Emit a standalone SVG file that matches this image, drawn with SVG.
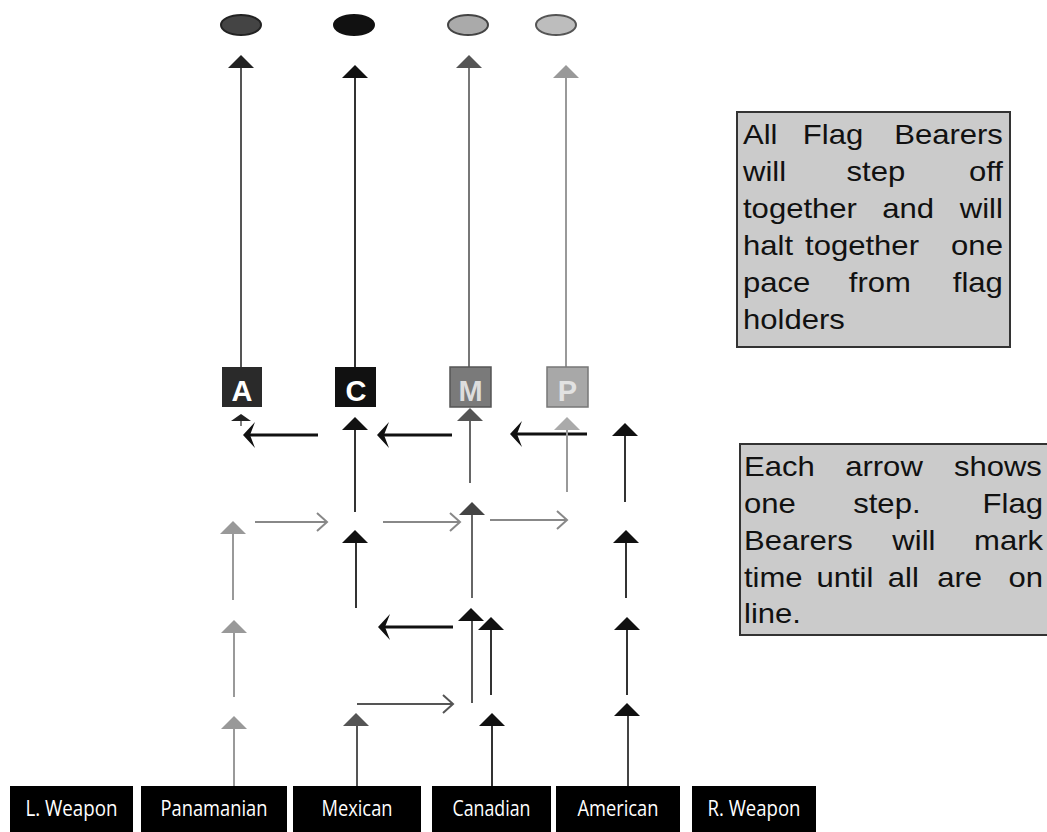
<svg xmlns="http://www.w3.org/2000/svg" xmlns:xlink="http://www.w3.org/1999/xlink" width="1047" height="832" viewBox="0 0 1047 832">
<style>
.ln{fill:none;stroke-width:2}
.lt{fill:none;stroke-width:3;stroke:#111}
.note{fill:#cbcbcb;stroke:#333;stroke-width:2}
.nt{font-family:"Liberation Sans",Arial,sans-serif;font-size:27px;fill:#111}
.bl{font-family:"Liberation Sans",Arial,sans-serif;font-size:29px;font-weight:bold;text-anchor:middle}
.lab rect{fill:#000}
.lab text{font-family:"Open Sans","Noto Sans",sans-serif;font-size:21px;fill:#fff;text-anchor:middle}
</style>
<defs>
<path id="uh" d="M0,0 L13,13 L-13,13 Z"/>
<path id="lh" d="M0,0 L12,-13 L7,0 L12,13 Z"/>
<path id="rh" d="M-10,-9 L0,0 L-10,9" fill="none"/>
</defs>
<rect width="1047" height="832" fill="#fff"/>

<g id="holder-1"><ellipse cx="241" cy="25" rx="20" ry="10" fill="#444" stroke="#222" stroke-width="2"/></g>
<g id="holder-2"><ellipse cx="354" cy="25" rx="20" ry="10" fill="#111" stroke="#111" stroke-width="2"/></g>
<g id="holder-3"><ellipse cx="468" cy="25" rx="20" ry="10" fill="#aaa" stroke="#444" stroke-width="2"/></g>
<g id="holder-4"><ellipse cx="556" cy="25" rx="20" ry="10" fill="#bdbdbd" stroke="#555" stroke-width="2"/></g>

<g id="connectors">
<use href="#uh" x="241" y="55" fill="#222"/><line class="ln" x1="241" y1="68" x2="241" y2="367" stroke="#555" stroke-width="1.6"/>
<use href="#uh" x="355" y="65" fill="#111"/><line class="ln" x1="355" y1="78" x2="355" y2="367" stroke="#333"/>
<use href="#uh" x="469" y="55" fill="#555"/><line class="ln" x1="469" y1="68" x2="469" y2="367" stroke="#777" stroke-width="1.6"/>
<use href="#uh" x="566" y="65" fill="#999"/><line class="ln" x1="566" y1="78" x2="566" y2="367" stroke="#999" stroke-width="1.6"/>

<path d="M241,414 L251,421 L231,421 Z" fill="#222"/><line x1="241" y1="421" x2="241" y2="426" stroke="#555" stroke-width="1.5"/>
<line class="lt" x1="318" y1="435" x2="250" y2="435"/><use href="#lh" x="243" y="435" fill="#111"/>
<use href="#uh" x="355" y="417" fill="#111"/><line class="ln" x1="355" y1="430" x2="355" y2="512" stroke="#333"/>
<line class="lt" x1="452" y1="435" x2="384" y2="435"/><use href="#lh" x="377" y="435" fill="#111"/>
<use href="#uh" x="470" y="408" fill="#555"/><line class="ln" x1="470" y1="421" x2="470" y2="483" stroke="#666"/>
<line class="lt" x1="587" y1="434" x2="517" y2="434"/><use href="#lh" x="510" y="434" fill="#111"/>
<use href="#uh" x="567" y="417" fill="#aaa"/><line class="ln" x1="567" y1="430" x2="567" y2="492" stroke="#999"/>
<use href="#uh" x="625" y="423" fill="#111"/><line class="ln" x1="625" y1="436" x2="625" y2="502" stroke="#333"/>

<use href="#uh" x="233" y="521" fill="#999"/><line class="ln" x1="233" y1="534" x2="233" y2="600" stroke="#999"/>
<line class="ln" x1="255" y1="522" x2="327" y2="522" stroke="#888"/><use href="#rh" x="327" y="522" stroke="#888" stroke-width="2"/>
<use href="#uh" x="355" y="530" fill="#111"/><line class="ln" x1="356" y1="543" x2="356" y2="608" stroke="#333"/>
<line class="ln" x1="383" y1="522" x2="460" y2="522" stroke="#888"/><use href="#rh" x="460" y="522" stroke="#888" stroke-width="2"/>
<use href="#uh" x="472" y="502" fill="#444"/><line class="ln" x1="472" y1="515" x2="472" y2="598" stroke="#666"/>
<line class="ln" x1="490" y1="520" x2="567" y2="520" stroke="#888"/><use href="#rh" x="567" y="520" stroke="#888" stroke-width="2"/>
<use href="#uh" x="626" y="530" fill="#111"/><line class="ln" x1="626" y1="543" x2="626" y2="598" stroke="#333"/>

<use href="#uh" x="234" y="620" fill="#999"/><line class="ln" x1="234" y1="633" x2="234" y2="697" stroke="#999"/>
<line class="lt" x1="453" y1="627" x2="385" y2="627"/><use href="#lh" x="378" y="627" fill="#111"/>
<use href="#uh" x="471" y="608" fill="#111"/><line class="ln" x1="472" y1="621" x2="472" y2="703" stroke="#555"/>
<use href="#uh" x="491" y="617" fill="#111"/><line class="ln" x1="491" y1="630" x2="491" y2="695" stroke="#333"/>
<use href="#uh" x="627" y="617" fill="#111"/><line class="ln" x1="627" y1="630" x2="627" y2="695" stroke="#333"/>

<use href="#uh" x="234" y="716" fill="#999"/><line class="ln" x1="234" y1="729" x2="234" y2="786" stroke="#999"/>
<use href="#uh" x="356" y="713" fill="#555"/><line class="ln" x1="357" y1="726" x2="357" y2="786" stroke="#555"/>
<line class="ln" x1="357" y1="704" x2="453" y2="704" stroke="#555"/><use href="#rh" x="453" y="704" stroke="#555" stroke-width="2"/>
<use href="#uh" x="492" y="713" fill="#111"/><line class="ln" x1="492" y1="726" x2="492" y2="786" stroke="#333"/>
<use href="#uh" x="627" y="703" fill="#111"/><line class="ln" x1="628" y1="716" x2="628" y2="786" stroke="#444"/>
</g>

<g id="bearer-A"><rect x="222" y="367" width="40" height="40" fill="#2a2a2a"/><text class="bl" x="242" y="401" fill="#fff">A</text></g>
<g id="bearer-C"><rect x="335" y="367" width="41" height="40" fill="#111"/><text class="bl" x="356" y="401" fill="#fff">C</text></g>
<g id="bearer-M"><rect x="450" y="367" width="41" height="40" fill="#7a7a7a" stroke="#555" stroke-width="1.5"/><text class="bl" x="470.5" y="401" fill="#ddd">M</text></g>
<g id="bearer-P"><rect x="547" y="367" width="41" height="40" fill="#a8a8a8" stroke="#777" stroke-width="1.5"/><text class="bl" x="567.5" y="401" fill="#e2e2e2">P</text></g>

<g id="note-1">
<rect class="note" x="737" y="112" width="273" height="235"/>
<g transform="translate(743 0) scale(1.15 1)" class="nt">
<text x="0" y="144">All</text><text x="52" y="144">Flag</text><text x="226" y="144" text-anchor="end">Bearers</text>
<text x="0" y="181">will</text><text x="90" y="181">step</text><text x="226" y="181" text-anchor="end">off</text>
<text x="0" y="218">together</text><text x="121" y="218">and</text><text x="226" y="218" text-anchor="end">will</text>
<text x="0" y="255">halt</text><text x="54" y="255">together</text><text x="226" y="255" text-anchor="end">one</text>
<text x="0" y="292">pace</text><text x="92" y="292">from</text><text x="226" y="292" text-anchor="end">flag</text>
<text x="0" y="329">holders</text>
</g>
</g>

<g id="note-2">
<rect class="note" x="740" y="444" width="320" height="191"/>
<g transform="translate(744 0) scale(1.15 1)" class="nt">
<text x="0" y="476">Each</text><text x="88" y="476">arrow</text><text x="259" y="476" text-anchor="end">shows</text>
<text x="0" y="513">one</text><text x="95" y="513">step.</text><text x="260" y="513" text-anchor="end">Flag</text>
<text x="0" y="550">Bearers</text><text x="129" y="550">will</text><text x="260" y="550" text-anchor="end">mark</text>
<text x="0" y="587">time</text><text x="63" y="587">until</text><text x="125" y="587">all</text><text x="168" y="587">are</text><text x="260" y="587" text-anchor="end">on</text>
<text x="0" y="623">line.</text>
</g>
</g>

<g id="label-lweapon" class="lab"><rect x="10" y="786" width="123" height="46"/><text x="71.5" y="816" textLength="92" lengthAdjust="spacingAndGlyphs">L. Weapon</text></g>
<g id="label-panamanian" class="lab"><rect x="141" y="786" width="146" height="46"/><text x="214" y="816" textLength="107" lengthAdjust="spacingAndGlyphs">Panamanian</text></g>
<g id="label-mexican" class="lab"><rect x="293" y="786" width="128" height="46"/><text x="357" y="816" textLength="71" lengthAdjust="spacingAndGlyphs">Mexican</text></g>
<g id="label-canadian" class="lab"><rect x="432" y="786" width="119" height="46"/><text x="491.5" y="816" textLength="78" lengthAdjust="spacingAndGlyphs">Canadian</text></g>
<g id="label-american" class="lab"><rect x="556" y="786" width="124" height="46"/><text x="618" y="816" textLength="81" lengthAdjust="spacingAndGlyphs">American</text></g>
<g id="label-rweapon" class="lab"><rect x="692" y="786" width="124" height="46"/><text x="754" y="816" textLength="93" lengthAdjust="spacingAndGlyphs">R. Weapon</text></g>
</svg>
